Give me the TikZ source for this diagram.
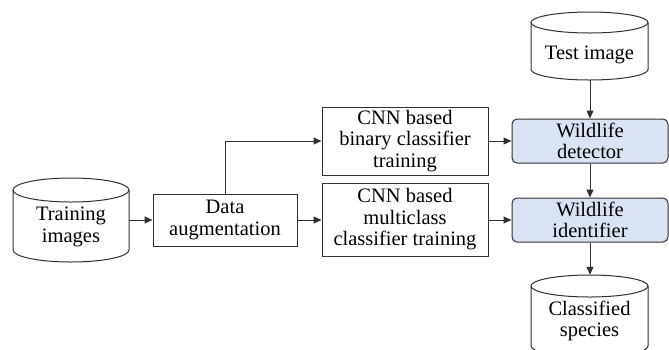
\documentclass[tikz,border=0pt]{standalone}
\usepackage{fontspec}
\setmainfont{Liberation Serif}
\usetikzlibrary{arrows.meta,calc}

\definecolor{linegrey}{HTML}{303030}
\definecolor{stagefill}{HTML}{DAE3F3}

\tikzset{
  every node/.style={font=\fontsize{20.5}{21.5}\selectfont, align=center, inner sep=0pt},
  procbox/.style={draw=linegrey, line width=1pt, fill=white, minimum width=#1},
  stagebox/.style={draw=linegrey, line width=1pt, fill=stagefill, rounded corners=5pt,
                   minimum width=156pt, minimum height=44pt},
  region/.style={draw=none, minimum width=#1},
  flow/.style={draw=linegrey, line width=1pt, -{Triangle[length=8pt,width=7pt]}},
  dbline/.style={draw=linegrey, line width=1pt},
}

% database cylinder: left x, right x, top y, bottom y, ellipse radius y
\newcommand{\dbdrum}[5]{%
  \pgfmathsetmacro{\drumcx}{(#1+#2)/2}%
  \pgfmathsetmacro{\drumrx}{(#2-#1)/2}%
  \draw[dbline] (#1,#3+#5) -- (#1,#4-#5)
    arc[start angle=180, end angle=360, x radius=\drumrx pt, y radius=#5 pt]
    -- (#2,#3+#5);
  \draw[dbline] (\drumcx,#3+#5) ellipse[x radius=\drumrx pt, y radius=#5 pt];
}

\begin{document}
\begin{tikzpicture}[x=1pt, y=-1pt]
  \useasboundingbox (0,0) rectangle (669,349);

  % data stores
  \dbdrum{13}{129}{178}{262}{12}
  \dbdrum{531}{648}{12}{80}{10.5}
  \dbdrum{531}{648}{275}{357}{11}

  \node[region=116pt, minimum height=84pt] (train) at (71,220) {};
  \node (train-text) at (71,227) {Training\\images};
  \node[region=117pt, minimum height=68pt] (test) at (589.5,46) {};
  \node (test-text) at (589.5,55) {Test image};
  \node[region=117pt, minimum height=82pt] (species) at (589.5,316) {};
  \node (species-text) at (589.5,321) {Classified\\species};

  % processing steps
  \node[procbox=144pt, minimum height=52pt] (aug) at (225,220) {Data\\augmentation};
  \node[procbox=166pt, minimum height=68pt] (binary) at (405,141) {CNN based\\binary classifier\\training};
  \node[procbox=166pt, minimum height=73pt] (multi) at (405,219.5) {CNN based\\multiclass\\classifier training};

  % deployed models
  \node[stagebox] (detector) at (590,141) {Wildlife\\detector};
  \node[stagebox] (identifier) at (590,220) {Wildlife\\identifier};

  % connectors
  \draw[flow] (train.east |- aug.west) -- (aug.west);
  \draw[flow] (aug.north) |- (binary.west);
  \draw[flow] (aug.east) -- (multi.west |- aug.east);
  \draw[flow] (binary.east) -- (detector.west);
  \draw[flow] (multi.east |- identifier.west) -- (identifier.west);
  \draw[flow] (detector.north |- test.south) -- (detector.north);
  \draw[flow] (detector.south) -- (identifier.north);
  \draw[flow] (identifier.south) -- (identifier.south |- species.north);
\end{tikzpicture}
\end{document}
